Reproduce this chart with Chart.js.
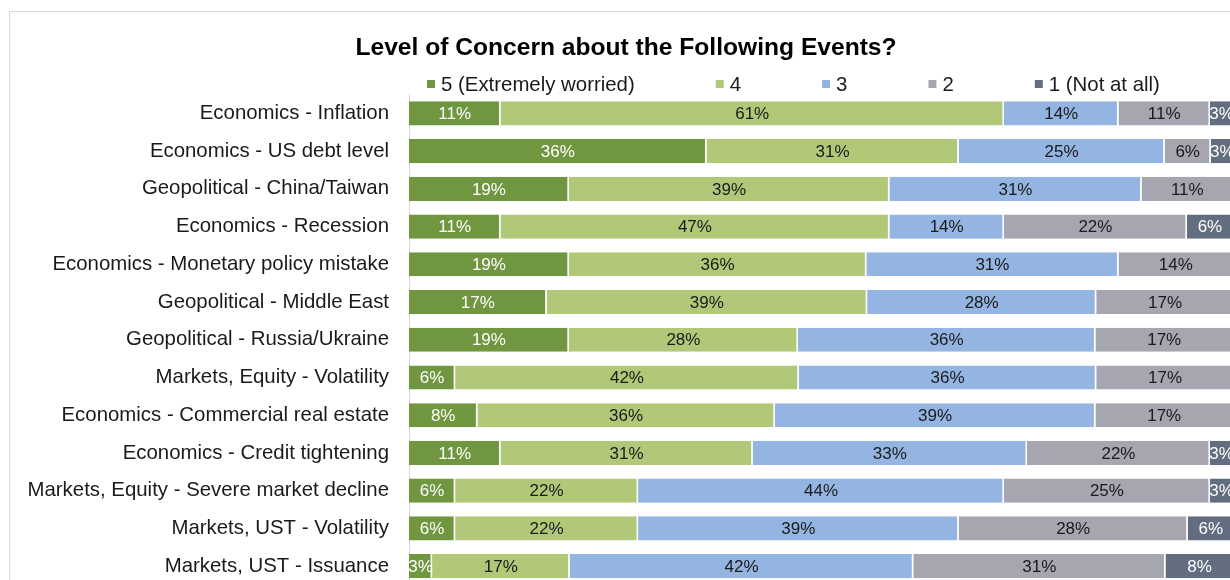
<!DOCTYPE html>
<html>
<head>
<meta charset="utf-8">
<title>Level of Concern about the Following Events?</title>
<script src="https://cdn.jsdelivr.net/npm/chart.js@4.4.1/dist/chart.umd.min.js"></script>
<style>
  html, body { margin: 0; padding: 0; background: #fff; overflow: hidden; width: 1230px; height: 580px; }
  #frame {
    position: absolute; left: 9px; top: 11px;
    width: 1234px; height: 590px;
    border-left: 1px solid #d9d9d9; border-top: 1px solid #d9d9d9;
  }
  canvas { display: block; }
</style>
</head>
<body>
<div id="frame"><canvas id="concernChart" width="1234" height="590"></canvas></div>
<script>
const categories = [
    'Economics - Inflation',
    'Economics - US debt level',
    'Geopolitical - China/Taiwan',
    'Economics - Recession',
    'Economics - Monetary policy mistake',
    'Geopolitical - Middle East',
    'Geopolitical - Russia/Ukraine',
    'Markets, Equity - Volatility',
    'Economics - Commercial real estate',
    'Economics - Credit tightening',
    'Markets, Equity - Severe market decline',
    'Markets, UST - Volatility',
    'Markets, UST - Issuance'
];

const seriesNames = ['5 (Extremely worried)', '4', '3', '2', '1 (Not at all)'];

// share of respondents, %
const extremelyWorried = [11.1, 36.1, 19.4, 11.1, 19.4, 16.7, 19.4, 5.6, 8.3, 11.1, 5.6, 5.6, 2.8];
const level4 = [61.1, 30.6, 38.9, 47.2, 36.1, 38.9, 27.8, 41.7, 36.1, 30.6, 22.2, 22.2, 16.7];
const level3 = [13.9, 25.0, 30.6, 13.9, 30.6, 27.8, 36.1, 36.1, 38.9, 33.3, 44.4, 38.9, 41.7];
const level2 = [11.1, 5.6, 11.1, 22.2, 13.9, 16.7, 16.7, 16.7, 16.7, 22.2, 25.0, 27.8, 30.6];
const notAtAll = [2.8, 2.8, 0, 5.6, 0, 0, 0, 0, 0, 2.8, 2.8, 5.6, 8.3];

const seriesColors = ['#70963f', '#b0c878', '#94b4e1', '#a5a6b0', '#626d80'];
const labelColors = ['#ffffff', '#1a1a1a', '#1a1a1a', '#1a1a1a', '#ffffff'];

const FONT = "Arial, 'Liberation Sans', sans-serif";

// percent labels in the middle of each segment
const segmentLabels = {
    id: 'segmentLabels',
    afterDatasetsDraw(chart) {
        const ctx = chart.ctx;
        ctx.save();
        ctx.font = `17px ${FONT}`;
        ctx.textAlign = 'center';
        ctx.textBaseline = 'middle';
        chart.data.datasets.forEach((ds, i) => {
            const meta = chart.getDatasetMeta(i);
            meta.data.forEach((bar, j) => {
                const v = ds.data[j];
                if (!v) return;
                ctx.fillStyle = labelColors[i];
                ctx.fillText(Math.round(v) + '%', (bar.x + bar.base) / 2, bar.y + 1);
            });
        });
        ctx.restore();
    }
};

// legend row, drawn by hand so the item gaps don't push the plot down
const legendRow = {
    id: 'legendRow',
    afterDraw(chart) {
        const ctx = chart.ctx;
        ctx.save();
        ctx.font = `20.4px ${FONT}`;
        ctx.textBaseline = 'middle';
        ctx.textAlign = 'left';
        let x = 417;
        const y = 72;
        chart.data.datasets.forEach(ds => {
            ctx.fillStyle = ds.backgroundColor;
            ctx.fillRect(x, y - 4, 8, 8);
            ctx.fillStyle = '#1a1a1a';
            ctx.fillText(ds.label, x + 14, y + 1);
            x += 14 + ctx.measureText(ds.label).width + 81;
        });
        ctx.restore();
    }
};

const seriesData = [extremelyWorried, level4, level3, level2, notAtAll];

new Chart(document.getElementById('concernChart').getContext('2d'), {
    type: 'bar',
    data: {
        labels: categories,
        datasets: seriesNames.map((name, i) => ({
            label: name,
            data: seriesData[i],
            backgroundColor: seriesColors[i],
            borderColor: '#ffffff',
            borderWidth: { top: 0, bottom: 0, left: 0, right: 1.5 },
            borderSkipped: false,
            barPercentage: 0.64,
            categoryPercentage: 1
        }))
    },
    options: {
        indexAxis: 'y',
        responsive: false,
        animation: false,
        layout: { padding: { left: 9, right: 11, top: 0, bottom: 17 } },
        scales: {
            x: {
                stacked: true,
                display: false,
                min: 0,
                max: 100
            },
            y: {
                stacked: true,
                grid: { display: false, drawTicks: false },
                border: { display: true, color: '#d9d9d9', width: 1 },
                ticks: {
                    padding: 20,
                    color: '#1a1a1a',
                    font: { family: FONT, size: 20.4 }
                },
                afterFit(scale) {
                    scale.width = 390;
                    // tick padding would otherwise be added above and below the plot
                    scale.paddingTop = 0;
                    scale.paddingBottom = 0;
                }
            }
        },
        plugins: {
            title: {
                display: true,
                text: 'Level of Concern about the Following Events?',
                color: '#000',
                font: { family: FONT, size: 24.6, weight: 'bold' },
                padding: { top: 21, bottom: 32 }
            },
            legend: { display: false },
            tooltip: { enabled: false }
        }
    },
    plugins: [segmentLabels, legendRow]
});
</script>
</body>
</html>
